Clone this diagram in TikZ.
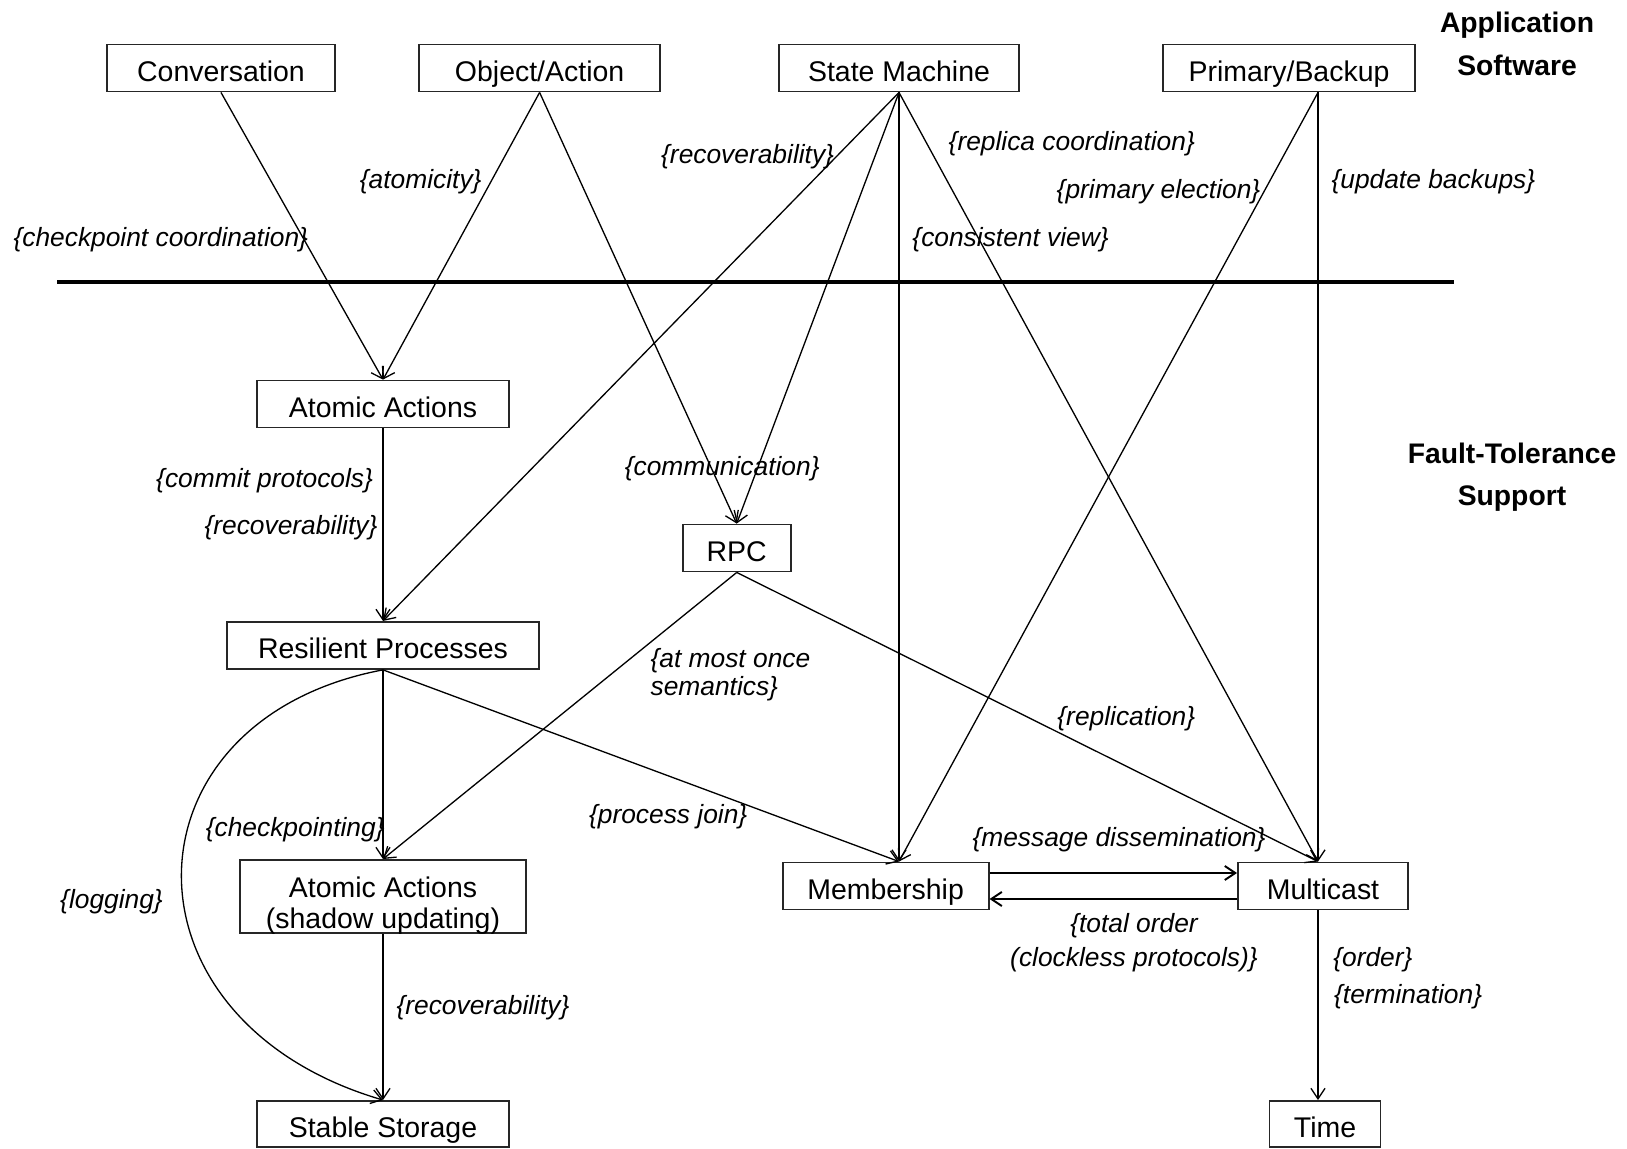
\documentclass[tikz,border=0pt]{standalone}
\usepackage{fontspec}
\setmainfont{Liberation Sans}
\usetikzlibrary{arrows.meta,calc}
\begin{document}
\begin{tikzpicture}[x=0.02cm,y=-0.02cm,
  box/.style={draw=black!85, line width=1.1pt, minimum height=0.94cm, inner sep=2pt,
    font=\fontsize{16.2}{19}\selectfont, text height=15.8pt, text depth=0.4pt},
  lab/.style={font=\fontsize{15}{18}\selectfont\itshape, inner sep=1pt},
  arr/.style={line width=0.75pt, -{Straight Barb[length=6pt,width=8pt]}},
  ttl/.style={font=\fontsize{16.1}{24.2}\selectfont\bfseries, align=center, inner sep=0pt}]
\useasboundingbox (0,0) rectangle (1627,1149);

% top layer
\node[box, minimum width=4.56cm] (conv) at (221,68) {Conversation};
\node[box, minimum width=4.82cm] (obj) at (539.6,68) {Object/Action};
\node[box, minimum width=4.80cm] (sm) at (899,68) {State Machine};
\node[box, minimum width=5.04cm] (pb) at (1289,68) {Primary/Backup};
\node[ttl] (app) at (1517,44) {Application\\Software};

% separator
\draw[line width=2.8pt] (57,282) -- (1454,282);

% lower layer
\node[box, minimum width=5.04cm] (aa) at (383,404) {Atomic Actions};
\node[box, minimum width=6.24cm] (rp) at (383,645.4) {Resilient Processes};
\node[box, minimum width=2.16cm] (rpc) at (736.7,548) {RPC};
\node[box, minimum width=5.72cm, minimum height=1.46cm, align=center, inner ysep=0pt,
      text height=38.2pt, text depth=1.8pt,
      font=\fontsize{16.2}{17.6}\selectfont] (aas) at (383,896.5) {Atomic Actions\\(shadow updating)};
\node[box, minimum width=5.04cm, minimum height=0.92cm] (ss) at (383,1124) {Stable Storage};
\node[box, minimum width=4.12cm] (mem) at (885.6,886) {Membership};
\node[box, minimum width=3.40cm] (mc) at (1323,886) {Multicast};
\node[box, minimum width=2.22cm, minimum height=0.92cm] (time) at (1325,1124) {Time};
\node[ttl] (fts) at (1512,477) {Fault-Tolerance\\Support};

% helper points
\coordinate (pbo) at ($(pb.south)+(29,0)$);
\coordinate (memn) at (mem.north -| sm.south);
\coordinate (mcn) at (mc.north -| pbo);
\coordinate (mcs) at (mc.south -| pbo);
\coordinate (timen) at (time.north -| pbo);

% connectors
\draw[arr] (conv.south) -- (aa.north);
\draw[arr] (obj.south) -- (aa.north);
\draw[arr] (obj.south) -- (rpc.north);
\draw[arr] (sm.south) -- (rp.north);
\draw[arr] (sm.south) -- (rpc.north);
\draw[arr] (sm.south) -- (memn);
\draw[arr] (sm.south) -- (mcn);
\draw[arr] (pbo) -- (memn);
\draw[arr] (pbo) -- (mcn);
\draw[arr] (aa.south) -- (rp.north);
\draw[arr] (rp.south) -- (aas.north);
\draw[arr] (rpc.south) -- (aas.north);
\draw[arr] (rpc.south) -- (mcn);
\draw[arr] (rp.south) -- (memn);
\draw[arr] (rp.south) .. controls +(-265,50) and +(-272,-80) .. (ss.north);
\draw[arr] (aas.south) -- (ss.north);
\draw[arr, line width=1.1pt] ($(mem.east)+(0,-13)$) -- ($(mc.west)+(0,-13)$);
\draw[arr, line width=1.1pt] ($(mc.west)+(0,13)$) -- ($(mem.east)+(0,13)$);
\draw[arr] (mcs) -- (timen);

% labels
\node[lab] (l1) at (160.8,239.7) {\{checkpoint coordination\}};
\node[lab] (l2) at (420.7,181.6) {\{atomicity\}};
\node[lab] (l3) at (747.6,156.7) {\{recoverability\}};
\node[lab] (l4) at (1071.8,143.2) {\{replica coordination\}};
\node[lab] (l5) at (1158.5,192) {\{primary election\}};
\node[lab] (l6) at (1433.4,181.6) {\{update backups\}};
\node[lab] (l7) at (1010.6,239.7) {\{consistent view\}};
\node[lab] (l8) at (264.6,480.4) {\{commit protocols\}};
\node[lab] (l9) at (291,528.1) {\{recoverability\}};
\node[lab] (l10) at (722.2,469) {\{communication\}};
\node[lab, anchor=west, align=left, font=\fontsize{15}{15.9}\selectfont\itshape] (l11) at (648.5,675) {\{at most once\\semantics\}};
\node[lab] (l12) at (1126.3,719) {\{replication\}};
\node[lab] (l13) at (668.2,816.6) {\{process join\}};
\node[lab] (l14) at (295.2,830) {\{checkpointing\}};
\node[lab] (l15) at (111.5,901.7) {\{logging\}};
\node[lab] (l16) at (483,1007.5) {\{recoverability\}};
\node[lab] (l17) at (1119,839.4) {\{message dissemination\}};
\node[lab, align=center, font=\fontsize{15}{19.4}\selectfont\itshape] (l18) at (1134,942.6) {\{total order\\(clockless protocols)\}};
\node[lab, anchor=west] (l19) at (1331.2,959.8) {\{order\}};
\node[lab, anchor=west] (l20) at (1332,997.1) {\{termination\}};
\end{tikzpicture}
\end{document}
